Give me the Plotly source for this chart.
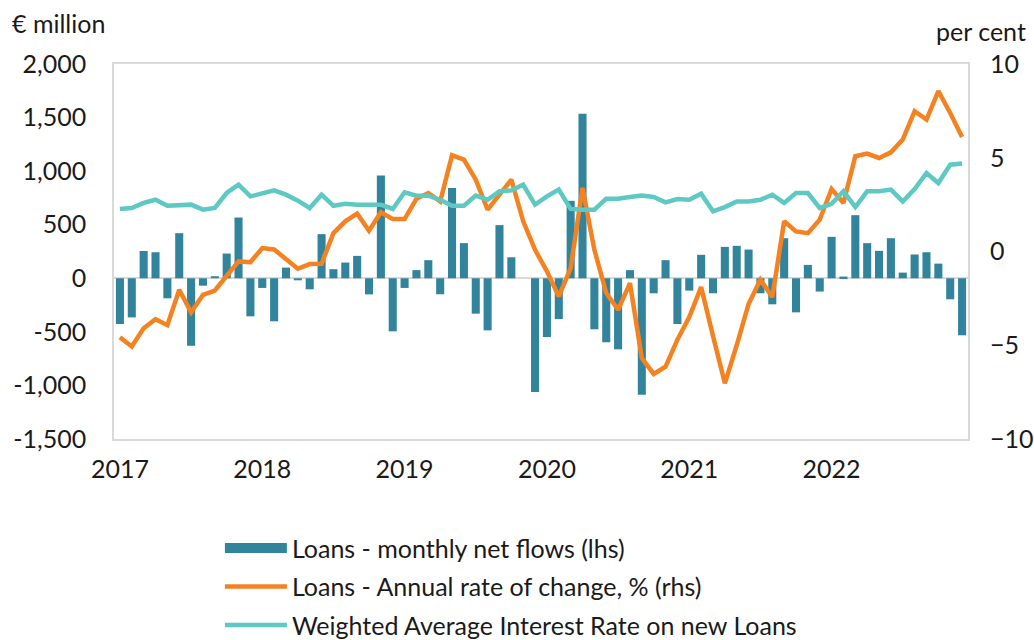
import plotly.graph_objects as go

years = [2017, 2018, 2019, 2020, 2021, 2022]
month_names = ["Jan", "Feb", "Mar", "Apr", "May", "Jun", "Jul", "Aug", "Sep", "Oct", "Nov", "Dec"]
months = [f"{m} {y}" for y in years for m in month_names]
year_labels = [str(y) for y in years]
year_tickvals = [f"Jan {y}" for y in years]

net_flows = [
    -427, -365, 255, 243, -187, 421, -630, -69, 19, 231, 567, -355,
    -90, -401, 100, -19, -103, 412, 85, 147, 209, -150, 960, -495,
    -90, 76, 169, -149, 842, 328, -330, -486, 496, 196, 0, -1062,
    -548, -380, 723, 1536, -476, -597, -663, 76, -1087, -140, 169, -427,
    -115, 219, -140, 293, 303, 268, -140, -243, 374, -318, 125, -124,
    387, 16, 589, 328, 256, 374, 53, 222, 243, 137, -196, -532,
]

annual_change = [
    -4.57, -5.07, -4.09, -3.61, -3.93, -2.04, -3.25, -2.31, -2.08, -1.28, -0.53, -0.57,
    0.18, 0.11, -0.40, -0.92, -0.67, -0.65, 0.98, 1.61, 2.02, 1.11, 2.09, 1.73,
    1.73, 2.82, 3.12, 2.67, 5.13, 4.90, 3.83, 2.23, 3.03, 3.83, 1.61, 0.09,
    -1.06, -2.40, -0.89, 3.39, 0.09, -2.22, -3.11, -1.69, -5.69, -6.53, -6.14, -4.70,
    -3.50, -1.90, -4.50, -7.03, -5.00, -2.80, -1.51, -2.43, 1.61, 1.07, 0.98, 1.70,
    3.33, 2.59, 5.08, 5.22, 4.99, 5.29, 5.97, 7.48, 7.04, 8.55, 7.39, 6.11,
]

interest_rate = [
    2.27, 2.32, 2.59, 2.76, 2.44, 2.44, 2.50, 2.23, 2.32, 3.12, 3.56, 2.94,
    3.07, 3.26, 3.03, 2.71, 2.32, 3.03, 2.44, 2.55, 2.50, 2.50, 2.50, 2.27,
    3.16, 2.98, 2.98, 2.76, 2.44, 2.44, 2.98, 2.76, 3.21, 3.26, 3.56, 2.50,
    2.94, 3.30, 2.27, 2.23, 2.23, 2.82, 2.82, 2.91, 2.98, 2.91, 2.62, 2.80,
    2.76, 3.08, 2.14, 2.37, 2.67, 2.67, 2.76, 3.03, 2.59, 3.12, 3.12, 2.32,
    2.55, 3.21, 2.37, 3.21, 3.21, 3.30, 2.67, 3.33, 4.19, 3.65, 4.63, 4.69,
]

left_ticks = [2000, 1500, 1000, 500, 0, -500, -1000, -1500]
left_ticktext = ["2,000", "1,500", "1,000", "500", "0", "-500", "-1,000", "-1,500"]
right_ticks = [10, 5, 0, -5, -10]

BAR = "#31849b"
ORANGE = "#f58220"
TEAL = "#5ec8c2"
FONT = "Lato"
FS = 25
TXT = "#1a1a1a"

fig = go.Figure()
fig.add_trace(go.Bar(
    x=months, y=net_flows, name="Loans - monthly net flows (lhs)",
    marker=dict(color=BAR, line=dict(width=0)), showlegend=False,
))
# legend entry styled like the wide bar swatch of the original
fig.add_trace(go.Scatter(
    x=[None], y=[None], name="Loans - monthly net flows (lhs)",
    mode="lines", line=dict(color=BAR, width=10), legendgroup="a",
))
fig.add_trace(go.Scatter(
    x=months, y=annual_change, name="Loans - Annual rate of change, % (rhs)",
    mode="lines", line=dict(color=ORANGE, width=4.5), yaxis="y2", legendgroup="b",
))
fig.add_trace(go.Scatter(
    x=months, y=interest_rate, name="Weighted Average Interest Rate on new Loans",
    mode="lines", line=dict(color=TEAL, width=4.5), yaxis="y2", legendgroup="c",
))

fig.update_layout(
    width=1034, height=640,
    margin=dict(l=114, r=66, t=64, b=201, autoexpand=False),
    paper_bgcolor="white", plot_bgcolor="white",
    font=dict(family=FONT, size=FS, color=TXT),
    bargap=0.32,
    showlegend=True,
    legend=dict(
        orientation="v", x=0.124, xanchor="left", y=-0.23, yanchor="top",
        font=dict(family=FONT, size=FS, color=TXT),
        tracegroupgap=3, itemwidth=62, bgcolor="rgba(0,0,0,0)",
    ),
    xaxis=dict(
        type="category", tickmode="array", tickvals=year_tickvals, ticktext=year_labels,
        showgrid=False, ticks="", showline=True, linecolor="#d9d9d9", linewidth=1.5,
        mirror=True, tickfont=dict(size=FS), ticklabelstandoff=7, automargin=False,
    ),
    yaxis=dict(
        range=[-1500, 2000], tickmode="array", tickvals=left_ticks, ticktext=left_ticktext,
        showgrid=False, zeroline=True, zerolinecolor="#d9d9d9", zerolinewidth=1.5,
        showline=True, linecolor="#d9d9d9", linewidth=1.5, mirror=True, ticks="",
        tickfont=dict(size=FS), ticklabelstandoff=21, automargin=False,
    ),
    yaxis2=dict(
        range=[-10, 10], tickmode="array", tickvals=right_ticks,
        overlaying="y", side="right", showgrid=False, zeroline=False, ticks="",
        tickfont=dict(size=FS), ticklabelstandoff=21, automargin=False,
    ),
    annotations=[
        dict(text="€ million", xref="paper", yref="paper", x=-0.1218, y=1.108,
             xanchor="left", yanchor="middle", showarrow=False, font=dict(size=FS)),
        dict(text="per cent", xref="paper", yref="paper", x=1.0703, y=1.087,
             xanchor="right", yanchor="middle", showarrow=False, font=dict(size=FS)),
    ],
)

fig.write_html(
    "out.html",
    config={"displayModeBar": False},
    post_script="document.body.style.margin='0';",
)
